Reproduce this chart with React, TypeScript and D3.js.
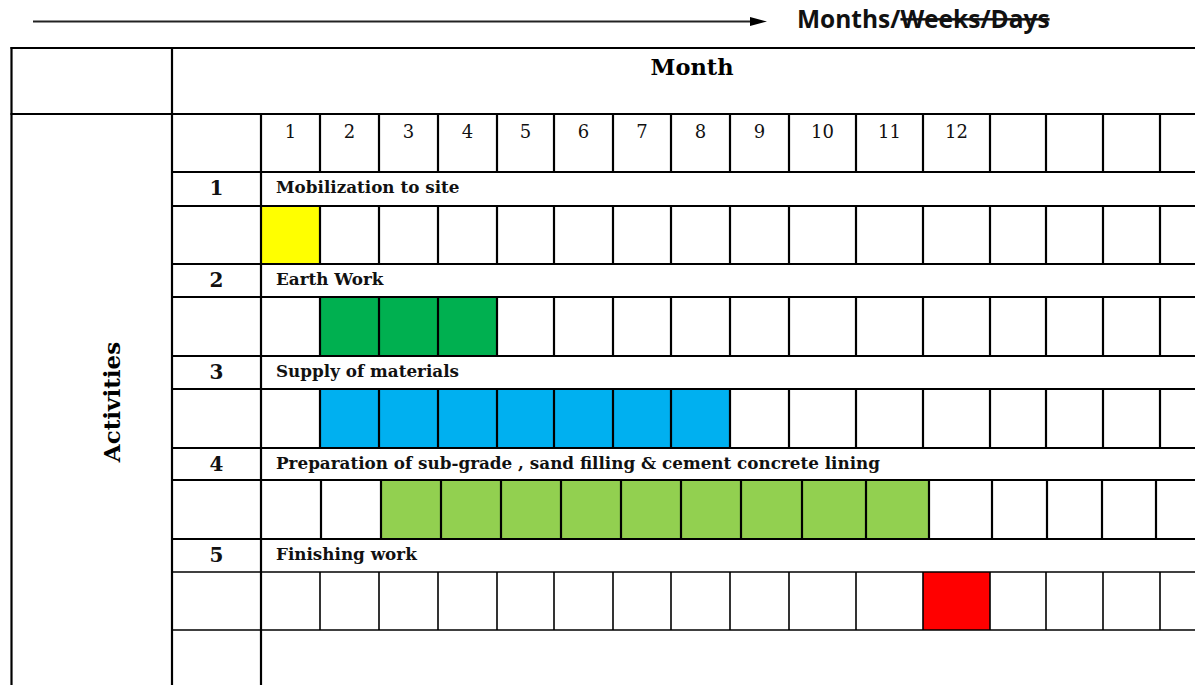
import React from 'react';
import * as d3 from 'd3';

// ---------- data ----------
const monthTicks = ['1', '2', '3', '4', '5', '6', '7', '8', '9', '10', '11', '12'];
const activityIds = ['1', '2', '3', '4', '5'];
const activityNames = [
  'Mobilization to site',
  'Earth Work',
  'Supply of materials',
  'Preparation of sub-grade , sand filling & cement concrete lining',
  'Finishing work',
];
const startMonth = [1, 2, 2, 3, 12];
const endMonth = [1, 4, 8, 11, 12];

// ---------- styles / layout ----------
const barColors = ['#FFFF00', '#00B050', '#00B0F0', '#92D050', '#FF0000'];
const W = 1195;
const H = 685;
const LEFT = 11.5;
const COL_A = 172;
const TABLE_TOP = 48;
const HEADER_BOTTOM = 114;
const RIGHT = W;
const MAIN_EDGES = [261, 320, 379, 438, 497, 554, 613, 671, 730, 789, 856, 923, 990, 1046, 1103, 1160];
const ROW4_EDGES = [261, 321, 381, 441, 501, 561, 621, 681, 741, 802, 866, 929, 992, 1047, 1102, 1156];
const ROW_EDGES = [172, 206, 264, 297, 356, 389, 448, 480, 539, 572, 630];
const SERIF = '"DejaVu Serif", serif';
const SANS = '"Open Sans", sans-serif';
const LW = 2.2;

export default function App() {
  const xMain = d3.scaleLinear().domain(d3.range(MAIN_EDGES.length)).range(MAIN_EDGES);
  const xRow4 = d3.scaleLinear().domain(d3.range(ROW4_EDGES.length)).range(ROW4_EDGES);
  const y = d3.scaleLinear().domain(d3.range(ROW_EDGES.length)).range(ROW_EDGES);
  const xFor = (i: number) => (i === 3 ? xRow4 : xMain);
  const edgesFor = (i: number) => (i === 3 ? ROW4_EDGES : MAIN_EDGES);

  const lines: JSX.Element[] = [];
  const hl = (x1: number, x2: number, yy: number, w = LW, key: string) =>
    lines.push(<line key={key} x1={x1} x2={x2} y1={yy} y2={yy} stroke="#000" strokeWidth={w} />);
  const vl = (xx: number, y1: number, y2: number, w = LW, key: string) =>
    lines.push(<line key={key} x1={xx} x2={xx} y1={y1} y2={y2} stroke="#000" strokeWidth={w} />);

  // outer frame
  hl(LEFT - 1, RIGHT, TABLE_TOP, LW, 'top');
  hl(LEFT - 1, RIGHT, HEADER_BOTTOM, LW, 'hdr');
  vl(LEFT, TABLE_TOP - 1, H, LW, 'left');
  vl(COL_A, TABLE_TOP - 1, H, LW, 'colA');
  vl(MAIN_EDGES[0], HEADER_BOTTOM, H, LW, 'colB');
  // row lines
  ROW_EDGES.forEach((yy, k) => hl(COL_A - 1, RIGHT, yy, k >= 9 ? 1.6 : LW, 'r' + k));
  // month columns in the tick row
  MAIN_EDGES.slice(1).forEach((xx, k) => vl(xx, HEADER_BOTTOM, ROW_EDGES[0], LW, 'tc' + k));
  // month columns in each activity cell row
  activityIds.forEach((_, i) => {
    const e = edgesFor(i);
    e.slice(1).forEach((xx, k) =>
      vl(xx, y(2 * i + 1), y(2 * i + 2), i === 4 ? 1.6 : LW, 'ac' + i + '-' + k)
    );
  });

  return (
    <svg
      width={W}
      height={H}
      style={{ position: 'absolute', left: 0, top: 0, display: 'block', background: '#fff' }}
    >
      <rect x={0} y={0} width={W} height={H} fill="#fff" />
      {/* arrow */}
      <line x1={33} x2={752} y1={21.5} y2={21.5} stroke="#222" strokeWidth={2} />
      <path d="M750,17 L767,21.5 L750,26 Z" fill="#000" />
      <text x={797} y={28} fontFamily={SANS} fontWeight={700} fontSize={24.5} fill="#111">
        Months/
        <tspan style={{ textDecoration: 'line-through' }}>Weeks/Days</tspan>
      </text>

      {/* bars */}
      {activityIds.map((_, i) => {
        const xs = xFor(i);
        return (
          <rect
            key={'bar' + i}
            x={xs(startMonth[i] - 1)}
            y={y(2 * i + 1)}
            width={xs(endMonth[i]) - xs(startMonth[i] - 1)}
            height={y(2 * i + 2) - y(2 * i + 1)}
            fill={barColors[i]}
          />
        );
      })}

      {lines}

      {/* header */}
      <text x={692} y={75} textAnchor="middle" fontFamily={SERIF} fontWeight={700} fontSize={22.5} fill="#000">
        Month
      </text>
      {monthTicks.map((t, k) => (
        <text
          key={'t' + k}
          x={(xMain(k) + xMain(k + 1)) / 2}
          y={138}
          textAnchor="middle"
          fontFamily={SERIF}
          fontSize={18}
          fill="#111"
        >
          {t}
        </text>
      ))}

      {/* activities label */}
      <text
        transform={`translate(120, 402) rotate(-90)`}
        textAnchor="middle"
        fontFamily={SERIF}
        fontWeight={700}
        fontSize={23}
        fill="#000"
      >
        Activities
      </text>

      {activityIds.map((id, i) => (
        <g key={'lab' + i}>
          <text
            x={(COL_A + MAIN_EDGES[0]) / 2}
            y={y(2 * i) + 23}
            textAnchor="middle"
            fontFamily={SERIF}
            fontWeight={700}
            fontSize={20}
            fill="#111"
          >
            {id}
          </text>
          <text
            x={MAIN_EDGES[0] + 15}
            y={y(2 * i) + 21}
            fontFamily={SERIF}
            fontWeight={700}
            fontSize={16.8}
            fill="#111"
          >
            {activityNames[i]}
          </text>
        </g>
      ))}
    </svg>
  );
}
